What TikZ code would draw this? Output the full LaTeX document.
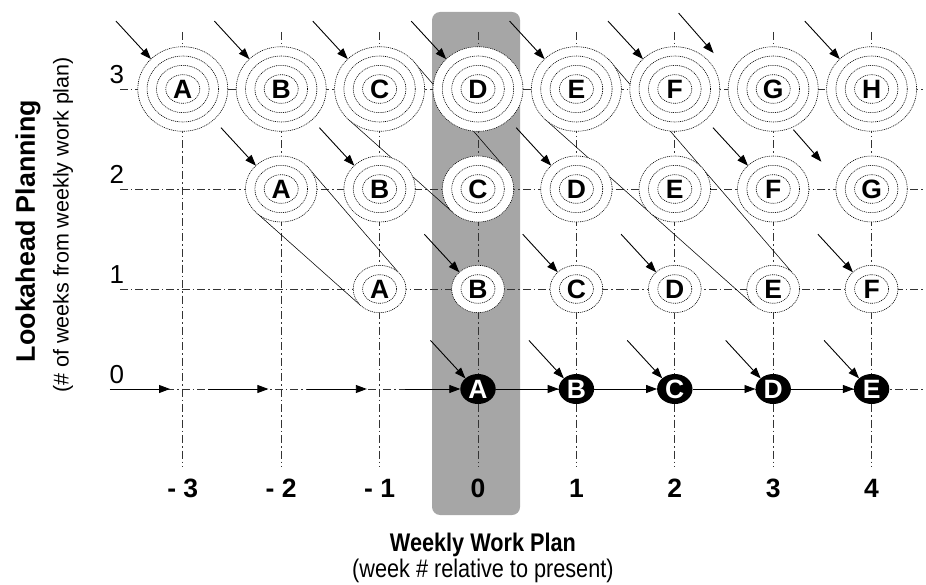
\documentclass[tikz,border=0pt]{standalone}
\usepackage{fontspec}
\setmainfont{Liberation Sans}
\newfontfamily\narrowfont{Liberation Sans}[FakeStretch=0.85]
\usetikzlibrary{calc,positioning,backgrounds,shapes.geometric,arrows.meta}

\tikzset{
  gridline/.style={black!80, line width=0.65pt, dash pattern=on 8pt off 3pt on 1.5pt off 3pt},
  ringline/.style={line width=0.6pt, dash pattern=on 1pt off 0.9pt},
  tube/.style={line width=0.55pt},
  feed/.style={-{Triangle[length=11pt,width=8pt]}, line width=0.9pt},
  planned/.style={ellipse, draw, ringline, fill=white, inner sep=0pt, outer sep=0pt,
    font=\bfseries\fontsize{26.5}{28}\selectfont},
  week3/.style={planned, minimum width=90pt, minimum height=84.6pt,
    path picture={\foreach \k in {1,2,3}
      \draw[ringline] (path picture bounding box.center) ellipse ({7.7pt+9.33pt*\k} and {5pt+9.33pt*\k});}},
  week2/.style={planned, minimum width=71.4pt, minimum height=66pt,
    path picture={\foreach \k in {1,2}
      \draw[ringline] (path picture bounding box.center) ellipse ({7.7pt+9.33pt*\k} and {5pt+9.33pt*\k});}},
  week1/.style={planned, minimum width=52.8pt, minimum height=47.4pt,
    path picture={\draw[ringline] (path picture bounding box.center) ellipse (17pt and 14.3pt);}},
  committed/.style={ellipse, fill=black, text=white, inner sep=0pt, outer sep=0pt,
    minimum width=35.4pt, minimum height=30pt, font=\bfseries\fontsize{26.5}{28}\selectfont},
  rowlabel/.style={anchor=base, font=\fontsize{26}{28}\selectfont},
  collabel/.style={anchor=base, font=\bfseries\fontsize{26.5}{28}\selectfont}
}

\begin{document}
\begin{tikzpicture}[x=98.4pt, y=100pt]
	\useasboundingbox (-478pt,-195pt) rectangle (448pt,389pt);

	% planned assignments, one row per week of lookahead
	\foreach \L [count=\i] in {A,B,C,D,E,F,G,H}
		\node[week3] (\L3) at (\i-4,3) {\L};
	\foreach \L [count=\i] in {A,B,C,D,E,F,G}
		\node[week2] (\L2) at (\i-3,2) {\L};
	\foreach \L [count=\i] in {A,B,C,D,E,F}
		\node[week1] (\L1) at (\i-2,1) {\L};
	\foreach \L [count=\i] in {A,B,C,D,E}
		\node[committed] (\L0) at (\i-1,0) {\L};

	% axis numbers
	\foreach \r in {0,...,3}
		\node[rowlabel] (row\r) at (-3.67,\r+0.055) {\r};
	\foreach \c/\t in {-3/- 3,-2/- 2,-1/- 1,0/0,1/1,2/2,3/3,4/4}
		\node[collabel] (wk\c) at (\c,-1.08) {\t};

	% axis titles
	\node[align=center, font=\narrowfont\fontsize{25.5}{26}\selectfont] (wwp) at (0.05,-1.69)
		{\textbf{Weekly Work Plan}\\(week \# relative to present)};
	\node[rotate=90, font=\bfseries\fontsize{26.8}{30}\selectfont] (lap) at (-4.573,1.58) {Lookahead Planning};
	\node[rotate=90, font=\fontsize{21.5}{26}\selectfont] (lapsub) at (-4.217,1.64) {(\# of weeks from weekly work plan)};

	\begin{scope}[on background layer]
		\fill[black!35, rounded corners=8pt] (-0.467,3.77) rectangle (0.427,-1.26);
		\foreach \r in {0,...,3}
			\draw[gridline] (-3.64,\r) -- (4.55,\r);
		\foreach \c in {-3,...,4}
			\draw[gridline] (\c,3.57) -- (\c,-0.78);
		\draw[tube] (A2.north east) -- (A1.north east) (A2.south west) -- (A1.south west);
		\draw[tube] (C3.north east) -- (C2.north east) (C3.south west) -- (C2.south west);
		\draw[tube] (E3.north east) -- (E1.north east) (E3.south west) -- (E1.south west);
	\end{scope}

	% shifts from one week to the next
	\foreach \n in {A3,B3,C3,D3,E3,F3,H3,A2,B2,D2,F2,B1,C1,D1,F1,A0,B0,C0,D0,E0}
		\draw[feed] ($(\n.north west)+(-35pt,38pt)$) -- (\n.north west);
	\draw[feed] ($(F3.north east)+(-28pt,46pt)$) -- ($(F3.north east)+(7pt,6pt)$);
	\draw[feed] ($(G2.north west)+(-53pt,36pt)$) -- ($(G2.north west)+(-25pt,4pt)$);

	% weekly work plan sequence
	\foreach \c in {-3,-2,-1}
		\draw[feed] (\c-0.74,0) -- (\c-0.13,0);
	\draw[feed] (-0.74,0) -- (A0);
	\draw[feed] (A0) -- (B0);
	\draw[feed] (B0) -- (C0);
	\draw[feed] (C0) -- (D0);
	\draw[feed] (D0) -- (E0);
\end{tikzpicture}
\end{document}
